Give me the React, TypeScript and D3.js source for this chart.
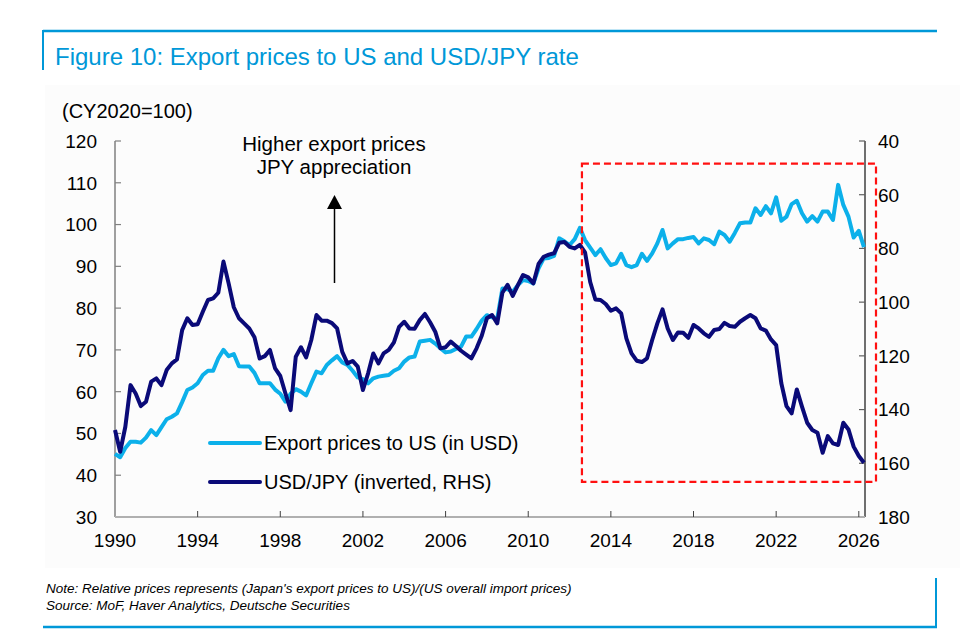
import * as d3 from 'd3'

// quarterly, starting 1990Q1
const startYear = 1990

const exportPrices = [
  45.1, 44.3, 46.5, 48.0,
  48.0, 47.8, 49.0, 50.8,
  49.6, 51.5, 53.4, 54.0,
  54.8, 57.5, 60.4, 61.0,
  62.0, 64.0, 65.0, 65.0,
  68.0, 70.0, 68.5, 69.0,
  66.1, 66.0, 66.0, 64.5,
  62.0, 62.0, 62.0, 60.5,
  59.5, 57.6, 59.5, 60.6,
  60.0, 59.1, 62.0, 64.8,
  64.4, 66.4, 67.5, 68.5,
  67.0, 66.4, 65.0, 63.4,
  63.0, 62.0, 63.2, 63.6,
  63.8, 64.0, 65.0, 65.6,
  67.2, 68.2, 68.4, 72.0,
  72.2, 72.4, 71.5, 70.4,
  69.4, 69.6, 70.2, 70.8,
  73.2, 73.2, 75.0, 77.0,
  78.3, 77.8, 77.5, 84.7,
  84.5, 83.9, 85.5, 86.7,
  86.5, 85.9, 89.5, 91.9,
  92.0, 92.5, 96.7, 96.0,
  95.1, 96.5, 99.2, 96.3,
  94.5, 92.7, 94.1, 92.0,
  90.3, 90.7, 93.0, 90.3,
  89.8, 90.3, 93.0, 91.3,
  93.1, 95.5, 98.7, 94.3,
  95.5, 96.5, 96.5, 96.8,
  97.0, 95.5, 96.7, 96.3,
  95.3, 98.3, 97.5, 95.9,
  98.0, 100.3, 100.5, 100.5,
  103.9, 102.3, 104.4, 102.7,
  106.5, 100.9, 101.9, 104.9,
  105.7, 102.7, 100.7, 102.0,
  100.7, 103.1, 103.1, 101.1,
  109.5, 104.7, 101.9, 96.9,
  98.5, 94.6,
]

const usdJpy = [
  147.6, 155.7, 146.4, 130.9,
  134.0, 138.7, 137.1, 129.6,
  128.4, 130.9, 125.3, 122.8,
  121.3, 110.4, 106.0, 108.5,
  108.2, 103.6, 99.2, 98.6,
  96.5, 84.9, 93.0, 101.9,
  106.0, 107.9, 109.8, 113.1,
  121.0, 120.1, 117.8, 124.7,
  127.5, 134.0, 140.2, 120.3,
  116.8, 120.6, 114.1, 104.8,
  106.9, 106.9, 107.8, 109.8,
  118.5, 122.8, 121.9, 124.0,
  132.7, 126.5, 119.1, 122.8,
  119.1, 117.8, 115.0, 109.2,
  107.3, 109.8, 109.9, 106.7,
  104.4, 107.5, 111.0, 117.2,
  116.8, 114.7, 116.3, 118.1,
  119.5, 120.9, 117.2, 112.5,
  106.0, 104.8, 107.9, 96.5,
  93.6, 97.7, 93.7, 89.9,
  90.8, 93.0, 85.8, 83.1,
  82.3, 81.8, 77.9, 77.6,
  79.4, 80.0, 78.7, 81.5,
  92.5, 99.0, 99.2, 100.7,
  103.2, 102.3, 104.2, 113.5,
  119.1, 121.8, 122.3, 120.9,
  114.1, 107.9, 102.7, 109.8,
  114.1, 111.3, 111.4, 113.3,
  108.5, 109.8, 111.6, 112.9,
  110.4, 110.0, 107.7, 108.9,
  109.2, 107.3, 106.0, 104.8,
  106.0, 109.8, 110.6, 113.9,
  116.0, 130.2, 138.7, 141.4,
  132.5, 138.9, 144.9, 147.6,
  148.6, 156.1, 149.9, 152.6,
  153.2, 144.9, 147.4, 153.8,
  157.3, 159.8,
]

const yearTicks = [1990, 1994, 1998, 2002, 2006, 2010, 2014, 2018, 2022, 2026]
const leftTicks = [30, 40, 50, 60, 70, 80, 90, 100, 110, 120]
const rightTicks = [40, 60, 80, 100, 120, 140, 160, 180]

const BLUE = '#0098d8'
const LIGHT = '#0cb0ea'
const NAVY = '#0a0a78'
const FONT = '"Liberation Sans", Arial, Helvetica, sans-serif'

export default function App() {
  const width = 974
  const height = 644

  const x = d3.scaleLinear().domain([1990, 2026.3]).range([115, 865])
  const yL = d3.scaleLinear().domain([30, 120]).range([517, 141])
  const yR = d3.scaleLinear().domain([40, 180]).range([141, 517])

  const lineL = d3.line<number>()
    .x((_, i) => x(startYear + i * 0.25))
    .y(d => yL(d))
  const lineR = d3.line<number>()
    .x((_, i) => x(startYear + i * 0.25))
    .y(d => yR(d))

  // highlight box, 2012 onward
  const boxX0 = x(2012.6)
  const boxX1 = x(2026.3) + 11
  const boxY0 = yL(114.6)
  const boxY1 = yL(38.4)

  return (
    <svg width={width} height={height} style={{ position: 'absolute', left: 0, top: 0, background: '#fff' }}
      fontFamily={FONT}>
      {/* frame */}
      <rect x={45} y={85} width={915} height={483} fill="#fcfcfc" />
      <line x1={43} x2={937} y1={31} y2={31} stroke={BLUE} strokeWidth={2.5} />
      <line x1={43} x2={43} y1={30} y2={70} stroke={BLUE} strokeWidth={2} />
      <line x1={936} x2={936} y1={578} y2={628} stroke={BLUE} strokeWidth={2} />
      <line x1={43} x2={937} y1={627} y2={627} stroke={BLUE} strokeWidth={2.5} />

      <text x={55} y={65} fontSize={24} fill={BLUE}>Figure 10: Export prices to US and USD/JPY rate</text>
      <text x={62} y={118} fontSize={20} fill="#000">(CY2020=100)</text>

      {/* left axis */}
      <line x1={115} x2={115} y1={141} y2={517} stroke="#808080" strokeWidth={1.5} />
      {leftTicks.map(t => (
        <g key={'l' + t}>
          <line x1={115} x2={121} y1={yL(t)} y2={yL(t)} stroke="#808080" strokeWidth={1.2} />
          <text x={97} y={yL(t)} dy="0.36em" textAnchor="end" fontSize={19}>{t}</text>
        </g>
      ))}

      {/* right axis */}
      <line x1={865} x2={865} y1={141} y2={517} stroke="#404040" strokeWidth={1.5} />
      {rightTicks.map(t => (
        <g key={'r' + t}>
          <line x1={859} x2={865} y1={yR(t)} y2={yR(t)} stroke="#606060" strokeWidth={1.2} />
          <text x={878} y={yR(t)} dy="0.36em" textAnchor="start" fontSize={19}>{t}</text>
        </g>
      ))}

      {/* bottom axis */}
      <line x1={115} x2={865} y1={517} y2={517} stroke="#b0b0b0" strokeWidth={2} />
      {yearTicks.map(t => (
        <g key={'x' + t}>
          {t > 1990 && <line x1={x(t)} x2={x(t)} y1={511} y2={517} stroke="#404040" strokeWidth={1} />}
          <text x={x(t)} y={547} textAnchor="middle" fontSize={19}>{t}</text>
        </g>
      ))}

      {/* series */}
      <path d={lineL(exportPrices) || ''} fill="none" stroke={LIGHT} strokeWidth={4} strokeLinejoin="round" />
      <path d={lineR(usdJpy) || ''} fill="none" stroke={NAVY} strokeWidth={4} strokeLinejoin="round" />

      {/* highlight */}
      <rect x={boxX0} y={boxY0} width={boxX1 - boxX0} height={boxY1 - boxY0}
        fill="none" stroke="#ff1010" strokeWidth={2.2} strokeDasharray="7,4" />

      {/* annotation */}
      <text x={334} y={151} textAnchor="middle" fontSize={20.5}>Higher export prices</text>
      <text x={334} y={174} textAnchor="middle" fontSize={20.5}>JPY appreciation</text>
      <line x1={334.5} x2={334.5} y1={283} y2={207} stroke="#000" strokeWidth={1.5} />
      <path d="M327,209 L342,209 L334.5,195 Z" fill="#000" />

      {/* legend */}
      <line x1={210} x2={260} y1={443} y2={443} stroke={LIGHT} strokeWidth={4} strokeLinecap="round" />
      <text x={264} y={443} dy="0.36em" fontSize={20}>Export prices to US (in USD)</text>
      <line x1={210} x2={260} y1={482} y2={482} stroke={NAVY} strokeWidth={4} strokeLinecap="round" />
      <text x={264} y={482} dy="0.36em" fontSize={20}>USD/JPY (inverted, RHS)</text>

      {/* notes */}
      <text x={46} y={593} fontSize={13.5} fontStyle="italic">Note: Relative prices represents (Japan's export prices to US)/(US overall import prices)</text>
      <text x={46} y={610} fontSize={13.5} fontStyle="italic">Source: MoF, Haver Analytics, Deutsche Securities</text>
    </svg>
  )
}
